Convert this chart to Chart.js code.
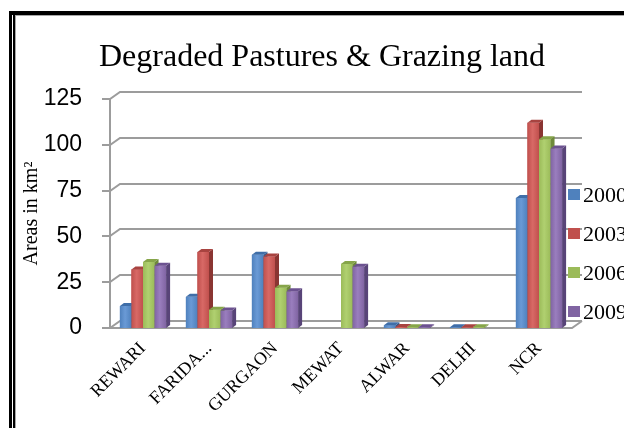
<!DOCTYPE html>
<html>
<head>
<meta charset="utf-8">
<script src="https://cdn.jsdelivr.net/npm/chart.js@4.4.0/dist/chart.umd.min.js"></script>
<style>
html, body { margin: 0; padding: 0; background: #fff; }
</style>
</head>
<body>
<canvas id="pasture-chart" width="624" height="428"></canvas>
<script>
// ==== data ====
var categories = ['REWARI', 'FARIDA...', 'GURGAON', 'MEWAT', 'ALWAR', 'DELHI', 'NCR'];
var years = ['2000', '2003', '2006', '2009'];
var v2000 = [12, 17, 40, 0, 1.5, 0.4, 71];
var v2003 = [32, 41.5, 39, 0, 0.5, 0.4, 112];
var v2006 = [36, 10, 22, 35, 0.4, 0.4, 103];
var v2009 = [34, 9.5, 20, 33.5, 0.4, 0, 98];
var yTicks = [0, 25, 50, 75, 100, 125];

var frontColors = ['#4F81BD', '#C0504D', '#9BBB59', '#8064A2'];
var lightColors = ['#6A9AD6', '#D86966', '#B0D070', '#9A7EBE'];
var sideColors = ['#34598A', '#8A3532', '#6E8A3A', '#584478'];
var topColors = ['#3F6EA8', '#A84340', '#86A549', '#6C5290'];

var DX = 10, DY = 7;

// ==== double frame round the chart ====
var frame = {
    id: 'frame',
    beforeDraw: function (chart) {
        var ctx = chart.ctx;
        ctx.save();
        ctx.fillStyle = '#fff';
        ctx.fillRect(0, 0, chart.width, chart.height);
        ctx.fillStyle = '#000';
        ctx.fillRect(9, 11, chart.width, 4);
        ctx.fillRect(9, 11, 3, chart.height);
        ctx.fillRect(13, 15, 2, chart.height);
        ctx.fillStyle = '#a8a8a8';
        ctx.fillRect(15, 15, chart.width, 1);
        ctx.fillRect(15, 15, 1, chart.height);
        ctx.restore();
    }
};

// ==== back wall gridlines, left wall and floor ====
var walls = {
    id: 'walls',
    beforeDatasetsDraw: function (chart) {
        var ctx = chart.ctx, ys = chart.scales.y, a = chart.chartArea;
        var p0 = Math.round(ys.getPixelForValue(0));
        var pTop = Math.round(ys.getPixelForValue(yTicks[yTicks.length - 1]));
        ctx.save();
        ctx.strokeStyle = '#9c9c9c';
        ctx.lineWidth = 2;
        ctx.beginPath();
        yTicks.forEach(function (t) {
            var py = Math.round(ys.getPixelForValue(t));
            ctx.moveTo(a.left - 8, py);
            ctx.lineTo(a.left, py);
            ctx.lineTo(a.left + DX, py - DY);
            ctx.lineTo(a.right + DX, py - DY);
        });
        ctx.moveTo(a.left, pTop);
        ctx.lineTo(a.left, p0);
        ctx.lineTo(a.right, p0);
        ctx.lineTo(a.right + DX, p0 - DY);
        ctx.stroke();
        ctx.restore();
    }
};

// ==== 3d faces on the bars ====
var bars3d = {
    id: 'bars3d',
    afterDatasetsDraw: function (chart) {
        var ctx = chart.ctx;
        var bd = 4, bh = 3;
        ctx.save();
        for (var i = 0; i < categories.length; i++) {
            for (var d = 0; d < chart.data.datasets.length; d++) {
                var el = chart.getDatasetMeta(d).data[i];
                var p = el.getProps(['x', 'y', 'base', 'width'], true);
                var h = p.base - p.y;
                if (h <= 0) continue;
                var x0 = p.x - p.width / 2, x1 = p.x + p.width / 2;
                var g = ctx.createLinearGradient(x0, 0, x1, 0);
                g.addColorStop(0, frontColors[d]);
                g.addColorStop(0.45, lightColors[d]);
                g.addColorStop(1, frontColors[d]);
                ctx.fillStyle = g;
                ctx.fillRect(x0, p.y, p.width, h);
                ctx.fillStyle = sideColors[d];
                ctx.beginPath();
                ctx.moveTo(x1, p.y);
                ctx.lineTo(x1 + bd, p.y - bh);
                ctx.lineTo(x1 + bd, p.base - bh);
                ctx.lineTo(x1, p.base);
                ctx.closePath();
                ctx.fill();
                ctx.fillStyle = topColors[d];
                ctx.beginPath();
                ctx.moveTo(x0, p.y);
                ctx.lineTo(x0 + bd, p.y - bh);
                ctx.lineTo(x1 + bd, p.y - bh);
                ctx.lineTo(x1, p.y);
                ctx.closePath();
                ctx.fill();
            }
        }
        ctx.restore();
    }
};

// ==== legend on the right ====
var sideLegend = {
    id: 'sideLegend',
    afterDraw: function (chart) {
        var ctx = chart.ctx;
        ctx.save();
        ctx.font = '22px "Liberation Serif"';
        ctx.textBaseline = 'middle';
        ctx.textAlign = 'left';
        years.forEach(function (yr, d) {
            var cy = 195 + d * 39;
            ctx.fillStyle = frontColors[d];
            ctx.fillRect(568, cy - 6, 12, 11);
            ctx.fillStyle = '#000';
            ctx.fillText(yr, 583, cy + 1);
        });
        ctx.restore();
    }
};

var ctxPasture = document.getElementById('pasture-chart').getContext('2d');

var pastureChart = new Chart(ctxPasture, {
    type: 'bar',
    data: {
        labels: categories,
        datasets: [
            { label: years[0], data: v2000, backgroundColor: frontColors[0] },
            { label: years[1], data: v2003, backgroundColor: frontColors[1] },
            { label: years[2], data: v2006, backgroundColor: frontColors[2] },
            { label: years[3], data: v2009, backgroundColor: frontColors[3] }
        ]
    },
    options: {
        responsive: false,
        animation: false,
        devicePixelRatio: 1,
        categoryPercentage: 0.7,
        barPercentage: 1.0,
        layout: { padding: { left: 20, right: 0, top: 38, bottom: 0 } },
        plugins: {
            legend: { display: false },
            tooltip: { enabled: false },
            title: {
                display: true,
                text: 'Degraded Pastures & Grazing land',
                color: '#000',
                font: { family: '"Liberation Serif"', size: 32, weight: 'normal' },
                padding: { top: 0, bottom: 22.6 }
            }
        },
        scales: {
            x: {
                grid: { display: false, drawTicks: false },
                border: { display: false },
                afterFit: function (s) { s.height = 100; },
                ticks: {
                    autoSkip: false,
                    minRotation: 45,
                    maxRotation: 45,
                    padding: 10,
                    color: '#000',
                    font: { family: '"Liberation Serif"', size: 18 }
                }
            },
            y: {
                min: 0,
                max: 125,
                grid: { display: false, drawTicks: false },
                border: { display: false },
                afterFit: function (s) { s.width = 90; },
                ticks: {
                    stepSize: 25,
                    padding: 28,
                    color: '#000',
                    font: { family: '"Liberation Sans"', size: 23 }
                },
                title: {
                    display: true,
                    text: 'Areas in km²',
                    color: '#000',
                    padding: 0,
                    font: { family: '"Liberation Serif"', size: 20 }
                }
            },
            // empty right-hand strip where the legend sits
            yRight: {
                position: 'right',
                grid: { display: false, drawTicks: false },
                border: { display: false },
                ticks: { display: false },
                afterFit: function (s) { s.width = 52; }
            }
        }
    },
    plugins: [frame, walls, bars3d, sideLegend]
});
</script>
</body>
</html>
